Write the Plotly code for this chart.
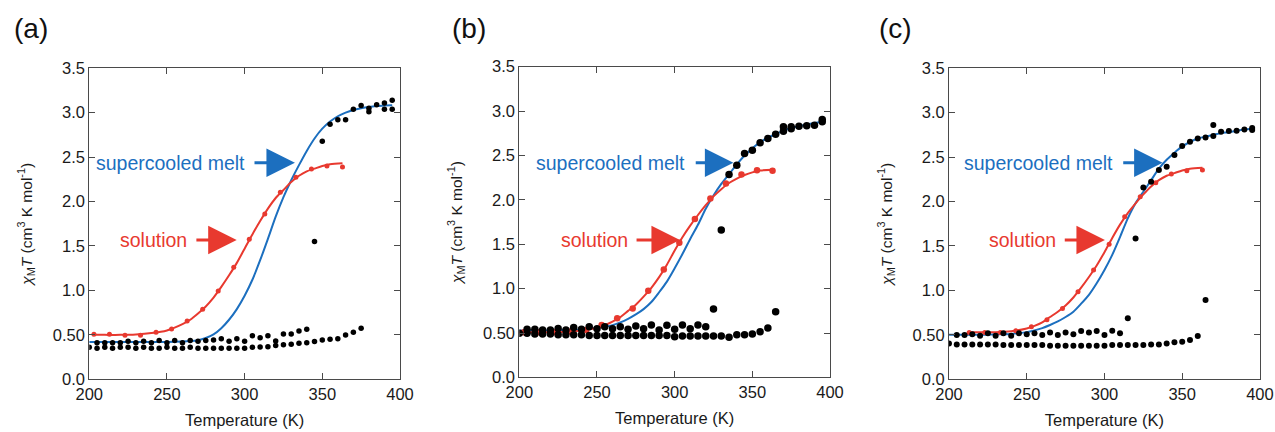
import plotly.graph_objects as go

FONT = "Arial, Liberation Sans, sans-serif"
RED = "#e8392f"
BLUE = "#1c6fbf"
AX = "#4a4a4a"

# ---------------- panel (a) ----------------
sol_T_a = [203, 213, 223, 233, 243, 253, 263, 273, 283, 293, 303, 313, 323, 333, 343, 353, 363]
sol_a = [0.506, 0.506, 0.495, 0.495, 0.529, 0.566, 0.655, 0.787, 0.994, 1.26, 1.575, 1.86, 2.104, 2.273, 2.367, 2.40, 2.39]
fitT_sol_a = [203, 210, 220, 230, 240, 250, 260, 265, 270, 275, 280, 285, 290, 295, 300, 305, 310, 315, 320, 325, 330, 335, 340, 345, 350, 355, 363]
fit_sol_a = [0.50, 0.50, 0.50, 0.505, 0.52, 0.55, 0.62, 0.67, 0.74, 0.82, 0.92, 1.04, 1.17, 1.31, 1.47, 1.63, 1.78, 1.92, 2.04, 2.13, 2.22, 2.29, 2.34, 2.37, 2.40, 2.42, 2.43]
fitT_melt_a = [200, 210, 220, 230, 240, 250, 260, 265, 270, 275, 280, 285, 290, 295, 300, 305, 310, 315, 320, 325, 330, 335, 340, 345, 350, 355, 360, 365, 370, 375, 380, 385, 390, 395]
fit_melt_a = [0.42, 0.42, 0.42, 0.42, 0.42, 0.42, 0.425, 0.43, 0.44, 0.465, 0.505, 0.575, 0.67, 0.79, 0.94, 1.12, 1.34, 1.58, 1.83, 2.05, 2.24, 2.41, 2.57, 2.71, 2.82, 2.90, 2.96, 3.00, 3.03, 3.05, 3.065, 3.075, 3.08, 3.085]
row1_T_a = [200, 205, 210, 215, 220, 225, 230, 235, 240, 245, 250, 255, 260, 265, 270, 275, 280, 285, 290, 295, 300, 305,
            310, 315, 320, 325, 330, 335, 340, 345, 350, 355, 360, 365, 370, 375]
row1_a = [0.36, 0.35, 0.36, 0.35, 0.36, 0.36, 0.35, 0.36, 0.35, 0.35, 0.36, 0.35, 0.35, 0.36, 0.35, 0.35, 0.35, 0.35, 0.35, 0.35, 0.35, 0.36,
          0.364, 0.367, 0.379, 0.39, 0.394, 0.405, 0.412, 0.424, 0.442, 0.45, 0.457, 0.499, 0.529, 0.574]
row2_T_a = [205, 210, 215, 220, 225, 230, 235, 240, 245, 250, 255, 260, 265, 270, 275, 280, 285, 290, 295, 300, 305, 310, 315, 320,
            325, 330, 335, 340, 345, 350, 355, 360, 365, 370, 375, 380, 385, 390, 395]
row2_a = [0.412, 0.412, 0.412, 0.412, 0.427, 0.412, 0.427, 0.412, 0.438, 0.412, 0.438, 0.412, 0.438, 0.427, 0.438, 0.442, 0.457, 0.427,
          0.457, 0.427, 0.491, 0.468, 0.491, 0.43, 0.509, 0.509, 0.543, 0.562,
          1.55, 2.68, 2.87, 2.92, 2.92, 3.04, 3.08, 3.05, 3.09, 3.11, 3.14]
extra_T_a = [380, 390, 395]
extra_a = [3.01, 3.04, 3.04]

# ---------------- panel (b) ----------------
sol_T_b = [203, 213, 223, 233, 243, 253, 263, 273, 283, 293, 303, 313, 323, 333, 343, 353, 363]
sol_b = [0.51, 0.51, 0.51, 0.517, 0.536, 0.592, 0.666, 0.778, 0.977, 1.217, 1.517, 1.784, 2.016, 2.185, 2.286, 2.335, 2.328]
fitT_sol_b = [200, 210, 220, 230, 240, 250, 255, 260, 265, 270, 275, 280, 285, 290, 295, 300, 305, 310, 315, 320, 325, 330, 335, 340, 345, 350, 355, 363]
fit_sol_b = [0.51, 0.51, 0.51, 0.515, 0.53, 0.56, 0.59, 0.63, 0.68, 0.75, 0.82, 0.91, 1.01, 1.13, 1.27, 1.43, 1.58, 1.71, 1.83, 1.94, 2.04, 2.12, 2.19, 2.24, 2.28, 2.31, 2.33, 2.34]
fitT_melt_b = [200, 210, 220, 230, 240, 250, 255, 260, 265, 270, 275, 280, 285, 290, 295, 300, 305, 310, 315, 320, 325, 330, 335, 340, 345, 350, 355, 360, 365, 370, 375, 380, 385, 390, 395]
fit_melt_b = [0.53, 0.53, 0.53, 0.535, 0.54, 0.56, 0.57, 0.59, 0.62, 0.66, 0.71, 0.77, 0.85, 0.96, 1.08, 1.23, 1.39, 1.56, 1.72, 1.90, 2.05, 2.18, 2.29, 2.40, 2.50, 2.58, 2.65, 2.70, 2.74, 2.78, 2.81, 2.83, 2.85, 2.865, 2.88]
row1_T_b = [200, 205, 210, 215, 220, 225, 230, 235, 240, 245, 250, 255, 260, 265, 270, 275, 280, 285, 290, 295, 300, 305, 310, 315,
            320, 325, 330, 335, 340, 345, 350, 355, 360, 365]
row1_b = [0.497, 0.497, 0.489, 0.489, 0.489, 0.482, 0.482, 0.482, 0.482, 0.474, 0.474, 0.474, 0.474, 0.474, 0.474, 0.474, 0.474, 0.474,
          0.474, 0.474, 0.459, 0.467, 0.467, 0.467, 0.467, 0.467, 0.467, 0.452, 0.482, 0.482, 0.489, 0.516, 0.557, 0.741]
row2_T_b = [205, 210, 215, 220, 225, 230, 235, 240, 245, 250, 255, 260, 265, 270, 275, 280, 285, 290, 295, 300, 305, 310, 315, 320,
            325, 330, 335, 340, 345, 350, 355, 360, 365, 370, 375, 380, 385, 390, 395]
row2_b = [0.542, 0.542, 0.534, 0.534, 0.553, 0.534, 0.564, 0.542, 0.572, 0.549, 0.572, 0.549, 0.572, 0.542, 0.579, 0.549, 0.591, 0.534,
          0.587, 0.542, 0.591, 0.549, 0.591, 0.572,
          0.771, 1.66, 2.286, 2.39, 2.522, 2.56, 2.643, 2.692, 2.74, 2.823, 2.823, 2.83, 2.834, 2.84, 2.88]
extra_T_b = [370, 375, 395]
extra_b = [2.774, 2.80, 2.905]

# ---------------- panel (c) ----------------
sol_T_c = [213, 223, 233, 243, 253, 263, 273, 283, 293, 303, 313, 323, 333, 343, 353, 363]
sol_c = [0.527, 0.527, 0.527, 0.546, 0.591, 0.67, 0.797, 0.985, 1.229, 1.518, 1.829, 2.054, 2.212, 2.309, 2.347, 2.354]
fitT_sol_c = [213, 220, 230, 240, 250, 255, 260, 265, 270, 275, 280, 285, 290, 295, 300, 305, 310, 315, 320, 325, 330, 335, 340, 345, 350, 355, 363]
fit_sol_c = [0.53, 0.53, 0.53, 0.54, 0.57, 0.60, 0.64, 0.70, 0.76, 0.83, 0.92, 1.03, 1.15, 1.28, 1.43, 1.59, 1.74, 1.87, 1.98, 2.08, 2.17, 2.24, 2.29, 2.32, 2.35, 2.37, 2.38]
fitT_melt_c = [200, 210, 220, 230, 240, 250, 255, 260, 265, 270, 275, 280, 285, 290, 295, 300, 305, 310, 315, 320, 325, 330, 335, 340, 345, 350, 355, 360, 365, 370, 375, 380, 385, 390, 395]
fit_melt_c = [0.50, 0.50, 0.50, 0.505, 0.51, 0.53, 0.55, 0.575, 0.61, 0.65, 0.70, 0.76, 0.85, 0.95, 1.08, 1.23, 1.40, 1.60, 1.81, 1.98, 2.11, 2.24, 2.37, 2.47, 2.55, 2.62, 2.67, 2.71, 2.73, 2.75, 2.77, 2.78, 2.795, 2.81, 2.82]
row1_T_c = [200, 205, 210, 215, 220, 225, 230, 235, 240, 245, 250, 255, 260, 265, 270, 275, 280, 285, 290, 295, 300, 305, 310, 315,
            320, 325, 330, 335, 340, 345, 350, 355, 360, 365]
row1_c = [0.403, 0.392, 0.392, 0.392, 0.392, 0.392, 0.392, 0.385, 0.385, 0.385, 0.385, 0.385, 0.385, 0.377, 0.377, 0.377, 0.377, 0.377,
          0.377, 0.377, 0.377, 0.385, 0.385, 0.385, 0.385, 0.385, 0.392, 0.392, 0.403, 0.415, 0.422, 0.441, 0.486, 0.891]
row2_T_c = [205, 210, 215, 220, 225, 230, 235, 240, 245, 250, 255, 260, 265, 270, 275, 280, 285, 290, 295, 300, 305, 310, 315,
            320, 325, 330, 335, 340, 345, 350, 355, 360, 365, 370, 375, 380, 385, 390, 395]
row2_c = [0.497, 0.497, 0.505, 0.49, 0.516, 0.49, 0.516, 0.49, 0.516, 0.505, 0.516, 0.497, 0.527, 0.497, 0.527, 0.505, 0.542, 0.527,
          0.542, 0.497, 0.546, 0.516, 0.685,
          1.585, 2.159, 2.223, 2.354, 2.392, 2.523, 2.624, 2.673, 2.71, 2.722, 2.737, 2.785, 2.793, 2.797, 2.812, 2.827]
extra_T_c = [370, 395]
extra_c = [2.86, 2.804]

# tick labels
x_ticks = [200, 250, 300, 350, 400]
y_ticks = [0, 0.5, 1.0, 1.5, 2.0, 2.5, 3.0, 3.5]
y_ticktext = ["0.0", "0.50", "1.0", "1.5", "2.0", "2.5", "3.0", "3.5"]
panel_labels = ["(a)", "(b)", "(c)"]

panels = [
    dict(sol_T=sol_T_a, sol=sol_a, fsT=fitT_sol_a, fs=fit_sol_a, fmT=fitT_melt_a, fm=fit_melt_a,
         r1T=row1_T_a, r1=row1_a, r2T=row2_T_a, r2=row2_a, eT=extra_T_a, e=extra_a,
         msz=5.5, rsz=5, xd=[0.0700, 0.3137], yd=[0.1220, 0.8420],
         melt_txt=(252.3, 2.437), melt_arr=(305.4, 332.4, 2.437),
         sol_txt=(241.5, 1.568), sol_arr=(268.0, 294.9, 1.568), lab_x=12),
    dict(sol_T=sol_T_b, sol=sol_b, fsT=fitT_sol_b, fs=fit_sol_b, fmT=fitT_melt_b, fm=fit_melt_b,
         r1T=row1_T_b, r1=row1_b, r2T=row2_T_b, r2=row2_b, eT=extra_T_b, e=extra_b,
         msz=7.5, rsz=6.5, xd=[0.4073, 0.6510], yd=[0.1262, 0.8456],
         melt_txt=(258.9, 2.417), melt_arr=(312.6, 337.8, 2.417),
         sol_txt=(248.3, 1.547), sol_arr=(274.5, 303.4, 1.547), lab_x=450),
    dict(sol_T=sol_T_c, sol=sol_c, fsT=fitT_sol_c, fs=fit_sol_c, fmT=fitT_melt_c, fm=fit_melt_c,
         r1T=row1_T_c, r1=row1_c, r2T=row2_T_c, r2=row2_c, eT=extra_T_c, e=extra_c,
         msz=6, rsz=5, xd=[0.7443, 0.9882], yd=[0.1222, 0.8420],
         melt_txt=(257.7, 2.436), melt_arr=(311.1, 337.4, 2.436),
         sol_txt=(247.1, 1.567), sol_arr=(273.5, 300.3, 1.567), lab_x=877),
]

fig = go.Figure()
annotations = []
layout = {}
for i, p in enumerate(panels):
    n = "" if i == 0 else str(i + 1)
    xr, yr = "x" + n, "y" + n
    # fit curves
    fig.add_trace(go.Scatter(x=p["fmT"], y=p["fm"], mode="lines", xaxis=xr, yaxis=yr,
                             line=dict(color=BLUE, width=2, shape="spline", smoothing=0.8), showlegend=False))
    fig.add_trace(go.Scatter(x=p["fsT"], y=p["fs"], mode="lines", xaxis=xr, yaxis=yr,
                             line=dict(color=RED, width=2, shape="spline", smoothing=0.8), showlegend=False))
    # solution points
    fig.add_trace(go.Scatter(x=p["sol_T"], y=p["sol"], mode="markers", xaxis=xr, yaxis=yr,
                             marker=dict(color=RED, size=p["rsz"]), showlegend=False))
    # melt data (black)
    for tx, ty in ((p["r1T"], p["r1"]), (p["r2T"], p["r2"]), (p["eT"], p["e"])):
        fig.add_trace(go.Scatter(x=tx, y=ty, mode="markers", xaxis=xr, yaxis=yr,
                                 marker=dict(color="#000000", size=p["msz"]), showlegend=False))

    layout["xaxis" + n] = dict(
        domain=p["xd"], anchor=yr, range=[200, 400], tickvals=x_ticks, automargin=False,
        ticks="inside", ticklen=6, tickwidth=1, tickcolor=AX,
        showline=True, linecolor=AX, linewidth=1, mirror="ticks",
        showgrid=False, zeroline=False,
        tickfont=dict(family=FONT, size=16.5, color="#1a1a1a"),
        title=dict(text="Temperature (K)", font=dict(family=FONT, size=16.5, color="#1a1a1a"), standoff=12),
    )
    layout["yaxis" + n] = dict(
        domain=p["yd"], anchor=xr, range=[0, 3.5], tickvals=y_ticks, ticktext=y_ticktext, automargin=False,
        ticks="inside", ticklen=6, tickwidth=1, tickcolor=AX,
        showline=True, linecolor=AX, linewidth=1, mirror="ticks",
        showgrid=False, zeroline=False,
        tickfont=dict(family=FONT, size=16.5, color="#1a1a1a"),
        title=dict(text="<i>χ</i><sub>M</sub><i>T</i> (cm<sup>3</sup> K mol<sup>-1</sup>)",
                   font=dict(family=FONT, size=15.5, color="#1a1a1a"), standoff=16),
    )
    # text labels
    annotations.append(dict(x=p["melt_txt"][0], y=p["melt_txt"][1], xref=xr, yref=yr, text="supercooled melt",
                            showarrow=False, font=dict(family=FONT, size=19.5, color=BLUE)))
    annotations.append(dict(x=p["sol_txt"][0], y=p["sol_txt"][1], xref=xr, yref=yr, text="solution",
                            showarrow=False, font=dict(family=FONT, size=19.5, color=RED)))
    # arrows
    ma = p["melt_arr"]
    annotations.append(dict(x=ma[1], y=ma[2], ax=ma[0], ay=ma[2], xref=xr, yref=yr, axref=xr, ayref=yr,
                            text="", showarrow=True, arrowhead=2, arrowsize=1.9, arrowwidth=3, arrowcolor=BLUE))
    sa = p["sol_arr"]
    annotations.append(dict(x=sa[1], y=sa[2], ax=sa[0], ay=sa[2], xref=xr, yref=yr, axref=xr, ayref=yr,
                            text="", showarrow=True, arrowhead=2, arrowsize=1.9, arrowwidth=3, arrowcolor=RED))
    # panel label
    annotations.append(dict(x=p["lab_x"] / 1275, y=1 - 28.5 / 432, xref="paper", yref="paper", xanchor="left",
                            yanchor="middle", text=panel_labels[i], showarrow=False,
                            font=dict(family=FONT, size=28, color="#111111")))

fig.update_layout(
    width=1275, height=432, margin=dict(l=0, r=0, t=0, b=0),
    paper_bgcolor="white", plot_bgcolor="white",
    font=dict(family=FONT), annotations=annotations, **layout,
)
fig.write_html("out.html")
